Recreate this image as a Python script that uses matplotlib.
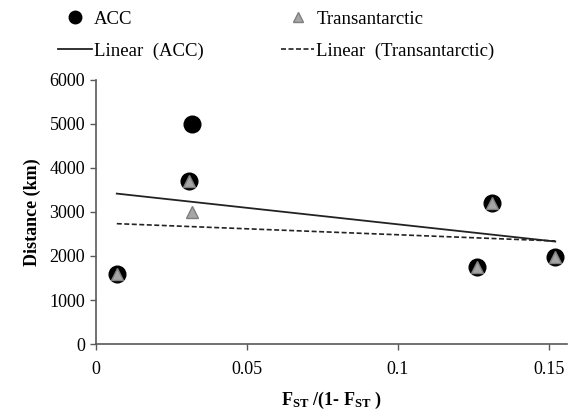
import numpy as np
import matplotlib
matplotlib.use("Agg")
import matplotlib.pyplot as plt
from matplotlib.lines import Line2D

plt.rcParams["font.family"] = ["Liberation Serif", "DejaVu Serif"]
plt.rcParams["mathtext.fontset"] = "custom"
plt.rcParams["mathtext.rm"] = "Liberation Serif"
plt.rcParams["mathtext.bf"] = "Liberation Serif:bold"

# -------------------------
# Data
# -------------------------
acc_x = [0.007, 0.031, 0.032, 0.126, 0.131, 0.152]
acc_y = [1600, 3700, 5000, 1750, 3200, 1970]

trans_x = [0.007, 0.031, 0.032, 0.126, 0.131, 0.152]
trans_y = [1600, 3700, 3000, 1750, 3200, 1970]

x_ticks = [0, 0.05, 0.1, 0.15]
x_tick_labels = ["0", "0.05", "0.1", "0.15"]
y_ticks = [0, 1000, 2000, 3000, 4000, 5000, 6000]

# linear trendlines (like Excel "Linear" trendline)
acc_fit = np.polyfit(acc_x, acc_y, 1)
trans_fit = np.polyfit(trans_x, trans_y, 1)

fig = plt.figure(figsize=(5.76, 4.16), dpi=100)
ax = fig.add_axes([0.166, 0.173, 0.819, 0.635])

ax.plot(acc_x, acc_y, linestyle="none", marker="o", markersize=12,
        color="black", zorder=3)
ax.plot(trans_x, trans_y, linestyle="none", marker="^", markersize=9,
        markerfacecolor="#a6a6a6", markeredgecolor="#7f7f7f", zorder=4)

xs = np.array([min(acc_x), max(acc_x)])
ax.plot(xs, np.polyval(acc_fit, xs), color="#222222", linewidth=1.3, zorder=2)
xs2 = np.array([min(trans_x), max(trans_x)])
ax.plot(xs2, np.polyval(trans_fit, xs2), color="#222222", linewidth=1.2,
        linestyle=(0, (3, 1.5)), zorder=2)

ax.set_xlim(0, 0.156)
ax.set_ylim(0, 6000)
ax.set_xticks(x_ticks)
ax.set_xticklabels(x_tick_labels)
ax.set_yticks(y_ticks)

for side in ["top", "right"]:
    ax.spines[side].set_visible(False)
for side in ["left", "bottom"]:
    ax.spines[side].set_color("#595959")
    ax.spines[side].set_linewidth(1.2)
ax.tick_params(axis="both", labelsize=13, colors="#595959", labelcolor="black",
               direction="out", length=4, width=1)
ax.tick_params(axis="x", pad=8)

ax.set_ylabel("Distance (km)", fontsize=13, fontweight="bold", labelpad=6)
ax.set_xlabel(r"$\mathbf{F_{ST}}$ /(1- $\mathbf{F_{ST}}$ )", fontsize=13,
              fontweight="bold", labelpad=9)

handles = [
    Line2D([], [], linestyle="none", marker="o", markersize=9, color="black"),
    Line2D([], [], color="#222222", linewidth=1.3),
    Line2D([], [], linestyle="none", marker="^", markersize=7,
           markerfacecolor="#a6a6a6", markeredgecolor="#7f7f7f"),
    Line2D([], [], color="#222222", linewidth=1.2, linestyle=(0, (3, 1.5))),
]
labels = ["ACC", "Linear  (ACC)", "Transantarctic", "Linear  (Transantarctic)"]
fig.legend(handles, labels, ncol=2, loc="upper center",
           bbox_to_anchor=(0.48, 1.015), frameon=False, fontsize=13.5,
           handlelength=1.8, handletextpad=0.1, columnspacing=4.1,
           labelspacing=0.8)

fig.savefig("out.png", dpi=100)
